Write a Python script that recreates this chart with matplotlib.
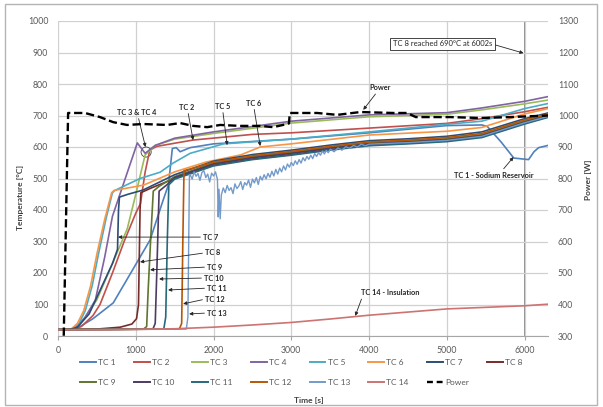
import matplotlib.pyplot as plt
from matplotlib.lines import Line2D
from matplotlib.patches import Ellipse, Rectangle

plt.rcParams["font.family"] = ["Lato", "DejaVu Sans"]

# thermocouple readings as (time [s], temperature [°C])
tc1 = [(0, 20), (150, 20), (250, 25), (450, 55), (710, 105), (900, 185), (1184, 305),
       (1350, 430), (1420, 480), (1470, 595), (1520, 598), (1570, 585), (1700, 598),
       (2000, 610), (3000, 625), (4000, 645), (5000, 668), (5450, 670), (5520, 665),
       (5700, 615), (5860, 565), (6050, 560), (6120, 585), (6180, 598), (6300, 605)]
tc2 = [(0, 20), (150, 20), (300, 30), (450, 65), (540, 100), (700, 200), (850, 300),
       (1000, 390), (1060, 420), (1120, 520), (1180, 590), (1270, 602), (1500, 612),
       (1735, 622), (2500, 640), (3000, 645), (4000, 660), (5000, 675), (5450, 690),
       (6000, 712), (6300, 726)]
tc3 = [(0, 20), (150, 20), (250, 30), (350, 60), (500, 115), (700, 230), (890, 340),
       (1000, 450), (1120, 575), (1250, 605), (1500, 625), (2000, 643), (3000, 676),
       (4000, 696), (5000, 704), (5450, 718), (6000, 737), (6300, 749)]
tc4 = [(0, 20), (150, 20), (250, 30), (350, 60), (480, 114), (600, 250), (700, 380),
       (1020, 613), (1120, 580), (1250, 605), (1500, 628), (2000, 648), (3000, 682),
       (4000, 702), (5000, 709), (5450, 724), (6000, 745), (6300, 760)]
tc5 = [(0, 20), (180, 22), (270, 40), (350, 80), (440, 160), (520, 260), (620, 375),
       (700, 455), (730, 462), (1055, 500), (1313, 520), (1480, 549), (1700, 580),
       (2130, 610), (3000, 625), (4000, 648), (5000, 672), (5450, 682), (6000, 722),
       (6300, 738)]
tc6 = [(0, 20), (100, 20), (170, 22), (250, 40), (330, 80), (420, 160), (500, 260),
       (600, 370), (690, 455), (720, 462), (1100, 479), (1500, 521), (1900, 552),
       (2350, 575), (2600, 600), (3000, 610), (4000, 638), (5000, 650), (5450, 662),
       (6000, 705), (6300, 722)]
tc7 = [(0, 20), (150, 20), (250, 28), (400, 70), (550, 150), (700, 230), (765, 275),
       (778, 400), (790, 441), (900, 450), (1090, 463), (1300, 488), (1500, 512),
       (2000, 555), (2500, 576), (3000, 590), (3500, 606), (4000, 620), (4500, 626),
       (5000, 634), (5450, 648), (6000, 690), (6300, 708)]
tc8 = [(0, 20), (500, 22), (800, 28), (950, 38), (1010, 55), (1035, 100), (1045, 250),
       (1055, 400), (1065, 455), (1200, 470), (1500, 500), (2000, 542), (2500, 562),
       (3000, 576), (3500, 592), (4000, 606), (4500, 612), (5000, 620), (5450, 633),
       (6000, 676), (6300, 696)]
tc9 = [(0, 20), (1100, 22), (1140, 30), (1160, 150), (1190, 300), (1225, 460),
       (1300, 475), (1500, 506), (2000, 549), (2500, 569), (3000, 583), (3500, 599),
       (4000, 613), (4500, 619), (5000, 626), (5450, 639), (6000, 682), (6300, 702)]
tc10 = [(0, 20), (1220, 22), (1250, 40), (1270, 200), (1300, 460), (1400, 480),
        (1500, 503), (2000, 546), (2500, 566), (3000, 580), (3500, 596), (4000, 610),
        (4500, 616), (5000, 623), (5450, 636), (6000, 679), (6300, 699)]
tc11 = [(0, 20), (1360, 22), (1385, 60), (1405, 300), (1425, 480), (1500, 498),
        (2000, 540), (2500, 560), (3000, 574), (3500, 590), (4000, 604), (4500, 610),
        (5000, 617), (5450, 630), (6000, 673), (6300, 694)]
tc12 = [(0, 20), (1560, 22), (1590, 40), (1605, 300), (1620, 525), (1700, 530),
        (2000, 552), (2500, 572), (3000, 586), (3500, 602), (4000, 616), (4500, 622),
        (5000, 630), (5450, 643), (6000, 686), (6300, 705)]
tc13 = [(0, 20), (1650, 22), (1670, 60), (1690, 512), (1700, 512), (1725, 498),
        (1750, 521), (1775, 507), (1800, 516), (1825, 494), (1850, 519), (1875, 525),
        (1900, 503), (1925, 514), (1950, 489), (1975, 517), (2000, 508), (2025, 521),
        (2050, 497), (2060, 378), (2070, 466), (2085, 372), (2100, 448), (2125, 470),
        (2150, 455), (2175, 478), (2200, 462), (2225, 471), (2250, 452), (2275, 483),
        (2300, 468), (2325, 476), (2350, 490), (2375, 465), (2400, 487), (2425, 479),
        (2450, 495), (2475, 472), (2500, 498), (2525, 486), (2550, 503), (2575, 481),
        (2600, 507), (2625, 495), (2650, 512), (2675, 499), (2700, 516), (2725, 504),
        (2750, 523), (2775, 508), (2800, 529), (2825, 514), (2850, 533), (2875, 521),
        (2900, 540), (2925, 527), (2950, 546), (2975, 536), (3000, 551), (3025, 541),
        (3050, 556), (3075, 545), (3100, 560), (3125, 549), (3150, 566), (3175, 556),
        (3200, 570), (3225, 561), (3250, 574), (3275, 563), (3300, 579), (3325, 570),
        (3350, 582), (3375, 574), (3400, 587), (3425, 578), (3450, 589), (3475, 582),
        (3500, 593), (3550, 585), (3600, 597), (3650, 590), (3700, 601), (3750, 596),
        (3800, 605), (3850, 600), (3900, 609), (3950, 604), (4000, 609), (4500, 614),
        (5000, 621), (5450, 634), (6000, 677), (6300, 697)]
tc14 = [(0, 20), (500, 20), (1000, 21), (1500, 23), (2000, 28), (2500, 35), (3000, 43),
        (3500, 54), (4000, 66), (4500, 76), (5000, 86), (5500, 91), (6000, 96), (6300, 101)]

# heater power as (time [s], power [W])
power = [(0, 0), (50, 0), (130, 1008), (347, 1008), (540, 995), (708, 979), (888, 970),
         (1094, 973), (1403, 970), (1570, 976), (1737, 967), (1918, 963), (2085, 970),
         (2342, 967), (2600, 967), (2767, 963), (2947, 973), (2970, 975), (2980, 1008),
         (3333, 1008), (3591, 1002), (3887, 1011), (4311, 1008), (4490, 1008),
         (4600, 995), (5045, 995), (5431, 992), (5817, 995), (6300, 1000)]

series = [tc1, tc2, tc3, tc4, tc5, tc6, tc7, tc8, tc9, tc10, tc11, tc12, tc13, tc14]
labels = ["TC %d" % (i + 1) for i in range(14)]
colors = ["#4F81BD", "#C0504D", "#9BBB59", "#8064A2", "#4BACC6", "#F79646", "#2C4D75",
          "#772C2A", "#5F7530", "#4D3B62", "#276A7C", "#B65708", "#729ACA", "#CD7371"]

W, H = 603, 407
fig = plt.figure(figsize=(W / 100, H / 100), dpi=100)
ax = fig.add_axes([58 / W, 1 - 336 / H, 490 / W, 315 / H])
ax2 = ax.twinx()

grid_c = "#d0d0d0"
tick_c = "#595959"
text_c = "#262626"

for data, c, name in zip(series, colors, labels):
    t, temp = zip(*data)
    ax.plot(t, temp, color=c, lw=1.0 if name == "TC 13" else 1.2, solid_joinstyle="round")

pt, pw = zip(*power)
dash = (0, (3.5, 1.6))
ax2.plot(pt, pw, color="black", lw=1.7, linestyle=dash)

ax.axvline(6000, color="#8c8c8c", lw=1.4, zorder=0.5)

ax.set_xlim(0, 6300)
ax.set_ylim(0, 1000)
ax2.set_ylim(300, 1300)
ax.set_xticks(range(0, 7000, 1000))
ax.set_yticks(range(0, 1100, 100))
ax2.set_yticks(range(300, 1400, 100))
ax.grid(True, color=grid_c, lw=0.9)
ax.set_axisbelow(True)
for a in (ax, ax2):
    for s in a.spines.values():
        s.set_visible(False)
ax.spines["bottom"].set_visible(True)
ax.spines["bottom"].set_color("#a6a6a6")
ax.tick_params(axis="y", length=0, pad=7, labelsize=6.3, labelcolor=tick_c)
ax.tick_params(axis="x", length=3, color="#a6a6a6", pad=4, labelsize=6.3, labelcolor=tick_c)
ax2.tick_params(axis="y", length=0, pad=7, labelsize=6.3, labelcolor=tick_c)

fig.text(20 / W, 1 - 197 / H, "Temperature [°C]", rotation=90, ha="center", va="center",
         fontsize=6, fontweight="bold", color="#404040")
fig.text(588 / W, 1 - 180 / H, "Power [W]", rotation=90, ha="center", va="center",
         fontsize=6, fontweight="bold", color="#404040")
fig.text(309 / W, 1 - 400 / H, "Time [s]", ha="center", va="center",
         fontsize=6, fontweight="bold", color="#404040")


def note(text, xy, xytext, ha="center", relpos=(0.5, 0.5), **kw):
    ax.annotate(text, xy=xy, xytext=xytext, ha=ha, va="center", fontsize=5.3,
                fontweight="bold", color=text_c,
                arrowprops=dict(arrowstyle="-|>", color=text_c, lw=0.6,
                                mutation_scale=5, shrinkA=0, shrinkB=0, relpos=relpos),
                **kw)


note("TC 3 & TC 4", (1125, 600), (1017, 710))
note("TC 2", (1737, 622), (1660, 726))
note("TC 5", (2175, 606), (2111, 729))
note("TC 6", (2600, 603), (2510, 739))
note("Power", (3925, 718), (4144, 788))
note("TC 1 - Sodium Reservoir", (5856, 568), (5598, 511), relpos=(0.6, 1))
note("TC 14 - Insulation", (3822, 64), (3900, 137), ha="left", relpos=(0.02, 0))
ax.add_patch(Ellipse((1133, 584), 130, 32, fill=False, ec="#404040", lw=0.6))

side = [("TC 7", (772, 314), (1866, 314)), ("TC 8", (1055, 235), (1892, 264)),
        ("TC 9", (1184, 210), (1918, 219)), ("TC 10", (1300, 181), (1879, 184)),
        ("TC 11", (1416, 146), (1918, 152)), ("TC 12", (1609, 102), (1892, 117)),
        ("TC 13", (1686, 70), (1918, 73))]
for text, xy, xytext in side:
    note(text, xy, xytext, ha="left", relpos=(0, 0.5))

ax.annotate("TC 8 reached 690°C at 6002s", xy=(5985, 898), xytext=(4942, 927),
            ha="center", va="center", fontsize=5.5, color=text_c,
            bbox=dict(boxstyle="square,pad=0.35", fc="white", ec="#262626", lw=0.6),
            arrowprops=dict(arrowstyle="-|>", color=text_c, lw=0.6, mutation_scale=5,
                            shrinkA=0, shrinkB=0, relpos=(1, 0.5)))

handles = [Line2D([], [], color=c, lw=1.4) for c in colors]
handles.append(Line2D([], [], color="black", lw=1.7, linestyle=(0, (2.5, 1.6))))
names = labels + ["Power"]
order = []
for c in range(8):
    for r in range(2):
        i = r * 8 + c
        if i < len(names):
            order.append(i)
fig.legend([handles[i] for i in order], [names[i] for i in order],
           loc="upper left", bbox_to_anchor=(80 / W, 1 - 359 / H), ncol=8,
           frameon=False, borderpad=0, borderaxespad=0, handlelength=1.9,
           handletextpad=0.25, columnspacing=2.2, labelspacing=1.55, fontsize=6,
           labelcolor=tick_c)

fig.add_artist(Rectangle((5 / W, 1 - 405 / H), 592 / W, 401 / H, transform=fig.transFigure,
                         fill=False, ec="#b4b4b4", lw=1))

fig.savefig("out.png", dpi=100)
